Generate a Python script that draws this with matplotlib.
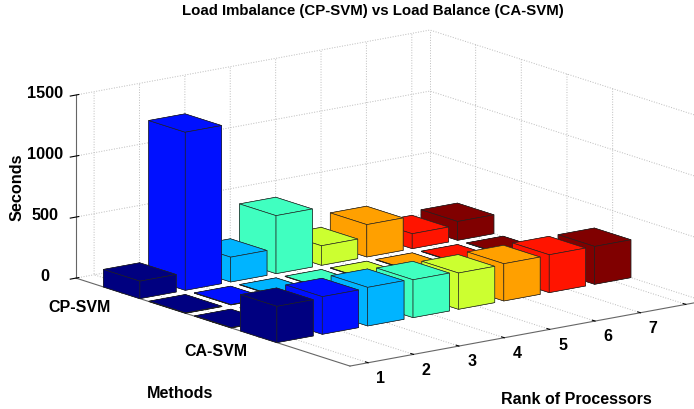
import matplotlib
matplotlib.use('Agg')
import matplotlib.pyplot as plt

plt.rcParams['font.family'] = ['Liberation Sans', 'DejaVu Sans']
plt.rcParams['font.weight'] = 'bold'

ranks = [1, 2, 3, 4, 5, 6, 7, 8]
rank_labels = ['1', '2', '3', '4', '5', '6', '7', '']
rows = [1, 2, 3, 4]
row_labels = ['CP-SVM', '', '', 'CA-SVM']
zticks = [0, 500, 1000, 1500]

# seconds per rank, one list per row of bars
cp_svm = [143, 1295, 203, 475, 160, 265, 122, 154]
row_2 = [3, 3, 3, 3, 3, 3, 3, 3]
row_3 = [3, 3, 3, 3, 3, 3, 3, 3]
ca_svm = [297, 308, 316, 310, 297, 305, 310, 310]
seconds = [cp_svm, row_2, row_3, ca_svm]

colors = ['#000080', '#0010FF', '#00B4FF', '#40FFC0',
          '#CCFF30', '#FFA000', '#FF1400', '#800000']

W, H = 694, 409
fig = plt.figure(figsize=(W / 100, H / 100), dpi=100)

# square axes larger than the figure, so zoom gives the pixel scale
size = 700
ax = fig.add_axes([30.5 / W, -148.5 / H, size / W, size / H], projection='3d', proj_type='ortho')
ax.patch.set_alpha(0)
ax.computed_zorder = False
ax.view_init(elev=14.05, azim=-127.1)
ax.set_box_aspect((443.8, 454.2, 188.7), zoom=643.2 / size)
ax.set_xlim(0.6, 8.4, view_margin=0)
ax.set_ylim(6, 0, view_margin=0)
ax.set_zlim(0, 1500, view_margin=0)

# far bars first
for j, row in enumerate(rows):
    for i in range(len(ranks) - 1, -1, -1):
        ax.bar3d(ranks[i] - 0.4, row - 0.4, 0, 0.8, 0.8, seconds[j][i],
                 color=colors[i], shade=False, edgecolor='#222222',
                 linewidth=0.45, zorder=10 + j * 10 + (len(ranks) - i))

ax.set_xticks(ranks)
ax.set_xticklabels(rank_labels, fontsize=11.5, fontweight='bold', ha='left')
ax.set_yticks(rows)
ax.set_yticklabels(row_labels, fontsize=11.5, fontweight='bold', ha='right')
ax.set_zticks(zticks)
ax.set_zticklabels([str(z) for z in zticks], fontsize=11.7, fontweight='bold', va='center')
ax.tick_params(axis='x', pad=0)
ax.tick_params(axis='y', pad=0)
ax.tick_params(axis='z', pad=5)

for axis in (ax.xaxis, ax.yaxis, ax.zaxis):
    axis.set_pane_color((1, 1, 1, 1))
    axis.pane.set_edgecolor('white')
    axis.line.set_color('#666666')
    axis.line.set_linewidth(0.8)
    axis._axinfo['grid'].update(color='#bbbbbb', linestyle=':', linewidth=0.7)
    axis._axinfo['tick'].update(color='#666666')
for axis in (ax.xaxis, ax.yaxis):
    axis._axinfo['tick'].update(inward_factor=0.0, outward_factor=0.12)

# back corner edge of the box
ax.plot([8.4, 8.4], [0, 0], [0, 1500], color='#bbbbbb', linestyle=':', linewidth=0.7, zorder=1)

fig.text(373 / W, 1 - 11.5 / H, 'Load Imbalance (CP-SVM) vs Load Balance (CA-SVM)',
         ha='center', va='center', fontsize=10.8)
fig.text(17 / W, 1 - 187.5 / H, 'Seconds', rotation=90, ha='center', va='center', fontsize=11.7)
fig.text(180.5 / W, 1 - 394 / H, 'Methods', ha='center', va='center', fontsize=11.6)
fig.text(576 / W, 1 - 399 / H, 'Rank of Processors', ha='center', va='center', fontsize=11.5)

fig.savefig('out.png', dpi=100)
